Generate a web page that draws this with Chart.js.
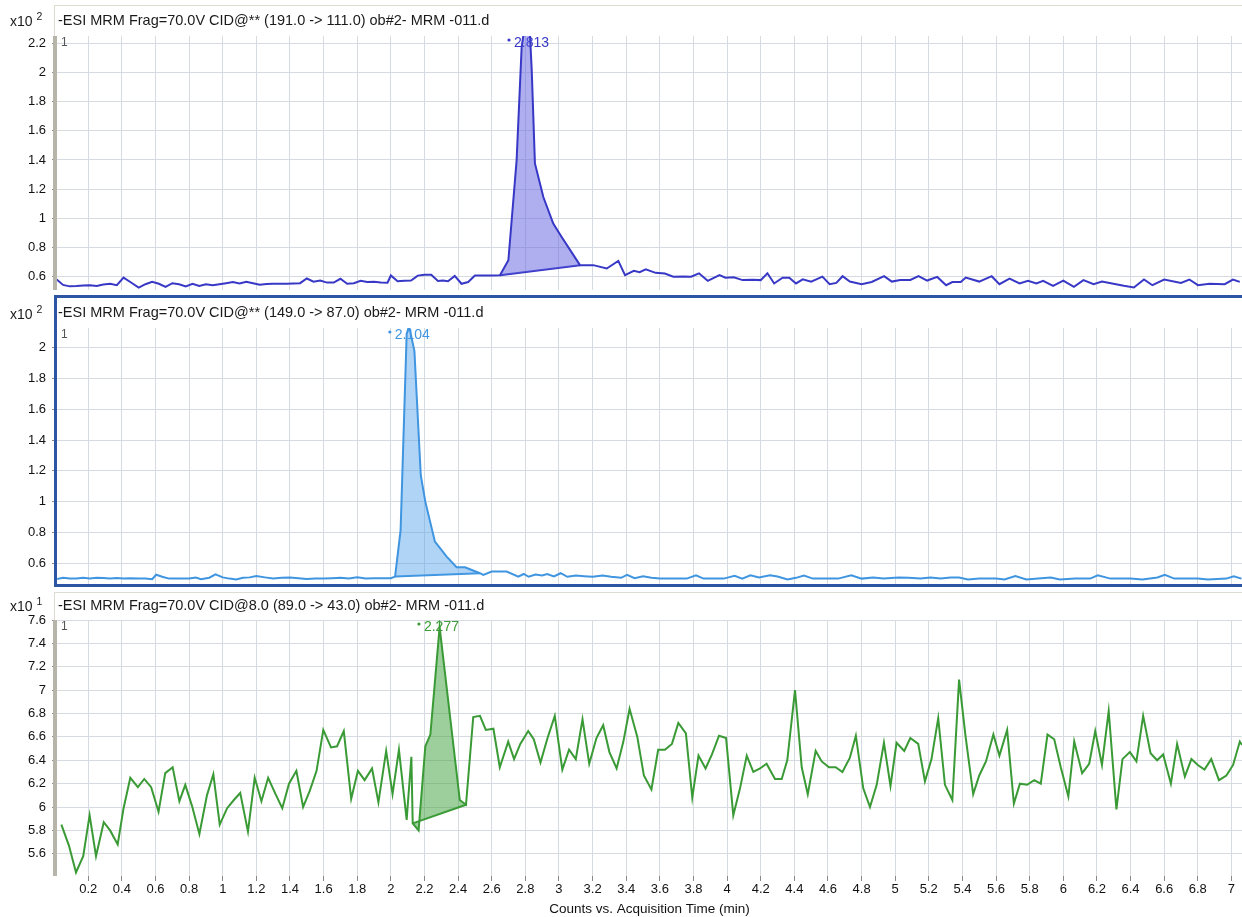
<!DOCTYPE html>
<html>
<head>
<meta charset="utf-8">
<script src="https://cdn.jsdelivr.net/npm/chart.js@4.4.1/dist/chart.umd.min.js"></script>
<style>
  body { margin: 0; background: #fff; font-family: "Liberation Sans", Arial, sans-serif; }
  #wrap { position: relative; width: 1242px; height: 917px; overflow: hidden; }
  canvas { position: absolute; left: 0; }
  .hdr { position: absolute; left: 58px; font-size: 14.5px; color: #1a1a1a; white-space: nowrap; line-height: 16px; }
  .mult { position: absolute; left: 10px; font-size: 14px; color: #1a1a1a; line-height: 16px; height: 16px; }
  .mult span { font-size: 10.5px; position: relative; top: -6px; }
  .thin { position: absolute; background: #dedbd0; }
  .bar { position: absolute; left: 53px; width: 4px; background: #b7b4a9; }
  .sel { position: absolute; box-sizing: border-box; border: 3px solid #2c56a3; border-right: none; }
</style>
</head>
<body>
<div id="wrap">
  <canvas id="c1" width="1242" height="286" style="top:20px"></canvas>
  <canvas id="c2" width="1242" height="288" style="top:312px"></canvas>
  <canvas id="c3" width="1242" height="313" style="top:604px"></canvas>

  <div class="thin" style="left:54px;top:5px;width:1188px;height:1px"></div>
  <div class="thin" style="left:54px;top:5px;width:1px;height:31px"></div>
  <div class="bar" style="top:36px;height:254px"></div>
  <div class="mult" style="top:13px">x10 <span>2</span></div>
  <div class="hdr" style="top:12px">-ESI MRM Frag=70.0V CID@** (191.0 -&gt; 111.0) ob#2- MRM -011.d</div>

  <div class="sel" style="left:54px;top:295px;width:1188px;height:292px"></div>
  <div class="mult" style="top:306px">x10 <span>2</span></div>
  <div class="hdr" style="top:304px">-ESI MRM Frag=70.0V CID@** (149.0 -&gt; 87.0) ob#2- MRM -011.d</div>

  <div class="thin" style="left:54px;top:592px;width:1188px;height:1px"></div>
  <div class="thin" style="left:54px;top:592px;width:1px;height:28px"></div>
  <div class="bar" style="top:620px;height:256px"></div>
  <div class="mult" style="top:598px">x10 <span>1</span></div>
  <div class="hdr" style="top:597px">-ESI MRM Frag=70.0V CID@8.0 (89.0 -&gt; 43.0) ob#2- MRM -011.d</div>
</div>
<script>
// MRM chromatograms, three transitions, counts vs acquisition time

// trace 1: 191.0 -> 111.0 (x10^2 counts)
const time1 = [0.012,0.05,0.09,0.13,0.17,0.21,0.25,0.29,0.33,0.37,
  0.41,0.45,0.50,0.54,0.58,0.62,0.66,0.70,0.74,0.78,
  0.82,0.86,0.90,0.94,0.98,1.02,1.06,1.10,1.14,1.18,
  1.22,1.26,1.30,1.34,1.38,1.42,1.46,1.50,1.54,1.58,
  1.62,1.66,1.70,1.74,1.78,1.82,1.86,1.90,1.94,1.98,
  2.00,2.04,2.08,2.12,2.16,2.20,2.24,2.28,2.31,2.34,
  2.38,2.42,2.46,2.50,2.55,2.60,2.649,2.699,2.748,2.778,
  2.80,2.825,2.838,2.857,2.907,2.966,3.016,3.125,3.204,3.284,
  3.353,3.393,3.445,3.48,3.516,3.575,3.63,3.68,3.74,3.786,
  3.833,3.885,3.955,3.99,4.04,4.092,4.15,4.20,4.24,4.28,
  4.33,4.37,4.41,4.45,4.50,4.567,4.61,4.65,4.687,4.73,
  4.80,4.86,4.934,4.98,5.03,5.09,5.139,5.19,5.25,5.303,
  5.34,5.39,5.42,5.50,5.574,5.62,5.68,5.74,5.79,5.84,
  5.88,5.939,6.00,6.063,6.12,6.18,6.23,6.29,6.36,6.42,
  6.48,6.53,6.60,6.70,6.75,6.801,6.87,6.96,7.009,7.05];
const counts1 = [0.578,0.540,0.530,0.532,0.536,0.537,0.532,0.543,0.548,0.538,
  0.590,0.560,0.522,0.545,0.562,0.548,0.527,0.552,0.545,0.530,
  0.548,0.533,0.545,0.538,0.545,0.552,0.560,0.550,0.562,0.552,
  0.542,0.546,0.548,0.548,0.548,0.550,0.552,0.584,0.562,0.570,
  0.556,0.556,0.582,0.548,0.552,0.568,0.560,0.562,0.556,0.555,
  0.605,0.565,0.568,0.570,0.604,0.610,0.610,0.567,0.570,0.565,
  0.602,0.548,0.560,0.605,0.605,0.605,0.607,0.710,1.397,2.176,
  2.35,2.32,2.016,1.376,1.145,0.962,0.870,0.676,0.676,0.653,
  0.705,0.607,0.637,0.628,0.647,0.623,0.618,0.597,0.598,0.597,
  0.620,0.568,0.607,0.590,0.592,0.573,0.575,0.573,0.620,0.550,
  0.590,0.590,0.550,0.578,0.562,0.597,0.545,0.554,0.600,0.563,
  0.545,0.560,0.600,0.563,0.574,0.574,0.600,0.570,0.595,0.538,
  0.560,0.560,0.591,0.563,0.600,0.545,0.583,0.550,0.568,0.550,
  0.568,0.534,0.570,0.527,0.573,0.545,0.563,0.550,0.534,0.522,
  0.577,0.538,0.577,0.554,0.577,0.538,0.548,0.545,0.577,0.561];

// trace 2: 149.0 -> 87.0 (x10^2 counts)
const time2 = [0.015,0.05,0.09,0.13,0.17,0.21,0.25,0.29,0.33,0.37,
  0.41,0.45,0.50,0.54,0.58,0.604,0.64,0.68,0.72,0.76,
  0.80,0.84,0.87,0.92,0.957,1.00,1.04,1.08,1.12,1.16,
  1.20,1.25,1.30,1.35,1.40,1.45,1.50,1.55,1.60,1.65,
  1.70,1.75,1.80,1.85,1.90,1.95,2.00,2.025,2.058,2.094,
  2.108,2.14,2.178,2.205,2.262,2.332,2.391,2.441,2.47,2.53,
  2.55,2.60,2.689,2.758,2.79,2.82,2.86,2.90,2.93,2.97,
  3.01,3.05,3.10,3.15,3.20,3.26,3.31,3.37,3.405,3.45,
  3.50,3.55,3.60,3.70,3.76,3.815,3.86,3.92,3.98,4.045,
  4.09,4.139,4.19,4.255,4.30,4.36,4.41,4.457,4.51,4.58,
  4.66,4.739,4.80,4.87,4.93,5.02,5.08,5.15,5.21,5.27,
  5.33,5.38,5.433,5.50,5.60,5.65,5.715,5.78,5.85,5.925,
  5.98,6.07,6.16,6.205,6.28,6.40,6.47,6.56,6.604,6.66,
  6.80,6.86,6.97,7.014,7.06];
const counts2 = [0.498,0.505,0.500,0.500,0.506,0.500,0.505,0.504,0.500,0.504,
  0.500,0.502,0.500,0.500,0.496,0.525,0.512,0.500,0.500,0.500,
  0.500,0.507,0.496,0.506,0.528,0.508,0.500,0.495,0.505,0.508,
  0.517,0.508,0.500,0.505,0.508,0.503,0.497,0.500,0.500,0.503,
  0.505,0.500,0.508,0.500,0.502,0.502,0.503,0.513,0.815,2.09,
  2.14,1.98,1.17,1.0,0.74,0.643,0.574,0.574,0.561,0.535,
  0.524,0.546,0.546,0.513,0.530,0.512,0.527,0.520,0.530,0.514,
  0.535,0.512,0.520,0.516,0.512,0.520,0.512,0.505,0.524,0.503,
  0.515,0.505,0.500,0.500,0.500,0.522,0.500,0.500,0.500,0.518,
  0.500,0.522,0.508,0.522,0.514,0.495,0.505,0.520,0.500,0.500,
  0.500,0.522,0.500,0.507,0.500,0.507,0.505,0.500,0.507,0.500,
  0.507,0.507,0.495,0.500,0.500,0.495,0.517,0.495,0.500,0.507,
  0.495,0.500,0.500,0.522,0.500,0.500,0.495,0.507,0.524,0.500,
  0.500,0.495,0.500,0.515,0.500];

// trace 3: 89.0 -> 43.0 (x10^1 counts)
const time3 = [0.04,0.085,0.127,0.17,0.208,0.246,0.292,0.33,0.375,0.41,
  0.45,0.495,0.533,0.574,0.618,0.658,0.702,0.742,0.777,0.817,
  0.861,0.906,0.944,0.982,1.026,1.066,1.104,1.15,1.19,1.23,
  1.27,1.314,1.354,1.394,1.438,1.478,1.518,1.558,1.598,1.644,
  1.68,1.72,1.764,1.804,1.844,1.888,1.926,1.972,2.01,2.048,
  2.094,2.122,2.13,2.165,2.205,2.235,2.29,2.41,2.447,2.49,
  2.53,2.565,2.61,2.648,2.698,2.733,2.77,2.817,2.85,2.89,
  2.932,2.975,3.02,3.06,3.10,3.14,3.18,3.223,3.263,3.30,
  3.343,3.383,3.42,3.466,3.505,3.55,3.59,3.63,3.672,3.71,
  3.755,3.793,3.83,3.872,3.91,3.952,3.994,4.037,4.077,4.117,
  4.156,4.196,4.235,4.285,4.325,4.358,4.404,4.444,4.48,4.527,
  4.563,4.606,4.646,4.686,4.73,4.766,4.81,4.85,4.89,4.933,
  4.972,5.008,5.054,5.09,5.137,5.177,5.216,5.256,5.296,5.34,
  5.38,5.418,5.464,5.50,5.54,5.584,5.62,5.666,5.706,5.742,
  5.785,5.827,5.866,5.906,5.946,5.985,6.03,6.065,6.112,6.154,
  6.19,6.23,6.27,6.316,6.352,6.396,6.435,6.475,6.519,6.558,
  6.594,6.64,6.677,6.723,6.762,6.80,6.84,6.88,6.926,6.97,
  7.01,7.05,7.063];
const counts3 = [5.85,5.67,5.44,5.58,5.93,5.58,5.87,5.80,5.68,5.99,
  6.25,6.17,6.24,6.17,5.96,6.29,6.34,6.05,6.19,6.01,
  5.77,6.10,6.28,5.85,5.99,6.06,6.12,5.79,6.25,6.05,
  6.25,6.11,5.99,6.20,6.31,6.00,6.14,6.31,6.66,6.51,
  6.52,6.65,6.07,6.31,6.23,6.33,6.04,6.48,6.11,6.49,
  5.89,6.43,5.86,5.80,6.52,6.62,7.54,6.06,6.02,6.77,
  6.78,6.66,6.67,6.34,6.56,6.41,6.54,6.65,6.58,6.38,
  6.59,6.78,6.32,6.49,6.41,6.75,6.37,6.59,6.70,6.47,
  6.33,6.56,6.84,6.60,6.27,6.15,6.49,6.49,6.54,6.72,
  6.63,6.08,6.44,6.33,6.45,6.61,6.59,5.93,6.16,6.44,
  6.30,6.33,6.37,6.24,6.24,6.40,7.00,6.34,6.11,6.48,
  6.39,6.34,6.34,6.30,6.42,6.61,6.16,6.00,6.19,6.55,
  6.18,6.55,6.48,6.59,6.54,6.22,6.41,6.76,6.19,6.06,
  7.09,6.61,6.11,6.27,6.39,6.62,6.44,6.66,6.03,6.20,
  6.19,6.23,6.20,6.62,6.58,6.34,6.09,6.56,6.29,6.37,
  6.65,6.36,6.82,5.98,6.41,6.47,6.39,6.78,6.46,6.40,
  6.45,6.20,6.54,6.26,6.41,6.36,6.32,6.41,6.23,6.27,
  6.36,6.56,6.53];

// integration baselines under each peak (start / end)
const baseTime1 = [2.649, 3.125], baseCounts1 = [0.607, 0.676];
const baseTime2 = [2.025, 2.53], baseCounts2 = [0.513, 0.535];
const baseTime3 = [2.13, 2.447], baseCounts3 = [5.86, 6.02];

// retention times printed over the peaks
const peakRt = [2.813, 2.104, 2.277];

// axis ticks
const xTicks = [0.2,0.4,0.6,0.8,1,1.2,1.4,1.6,1.8,2,2.2,2.4,2.6,2.8,3,3.2,3.4,3.6,3.8,4,
  4.2,4.4,4.6,4.8,5,5.2,5.4,5.6,5.8,6,6.2,6.4,6.6,6.8,7];
const yTicks1 = [0.6,0.8,1,1.2,1.4,1.6,1.8,2,2.2];
const yTicks2 = [0.6,0.8,1,1.2,1.4,1.6,1.8,2];
const yTicks3 = [5.6,5.8,6,6.2,6.4,6.6,6.8,7,7.2,7.4,7.6];

const FONT = '"Liberation Sans", Arial, sans-serif';
Chart.defaults.font.family = FONT;
Chart.defaults.font.size = 13;
Chart.defaults.color = '#111';

const gridColor = '#d6dae1';
const PAD = 16; // keeps the plot box independent of tick-label padding
const pts = (t, v) => t.map((x, i) => ({ x, y: v[i] }));

// draws the trace number and the "• rt" peak label
const peakMark = {
  id: 'peakMark',
  beforeDatasetsDraw(chart, args, opts) {
    const { ctx, chartArea, scales } = chart;
    ctx.save();
    ctx.textBaseline = 'middle';
    ctx.font = '12px ' + FONT;
    ctx.fillStyle = '#555';
    ctx.textAlign = 'left';
    ctx.fillText('1', chartArea.left + 4, chartArea.top + 7);

    const label = opts.rt.toFixed(3);
    const x = scales.x.getPixelForValue(opts.rt) + 4;
    const y = chartArea.top + 7;
    ctx.font = '14px ' + FONT;
    ctx.fillStyle = opts.color;
    ctx.textAlign = 'center';
    ctx.fillText(label, x, y);
    const w = ctx.measureText(label).width;
    ctx.beginPath();
    ctx.arc(x - w / 2 - 5, y - 3, 1.6, 0, Math.PI * 2);
    ctx.fill();
    ctx.restore();
  }
};

function makeChart(id, p) {
  const xAxis = {
    type: 'linear', min: 0.014, max: 7.063,
    afterBuildTicks: s => { s.ticks = xTicks.map(v => ({ value: v })); },
    grid: { color: gridColor, drawTicks: p.showX, tickLength: 5, tickColor: '#8a8a8a' },
    border: { display: false },
    ticks: { display: p.showX, autoSkip: false, maxRotation: 0, minRotation: 0, padding: 1, callback: v => String(v) }
  };
  if (p.showX) {
    xAxis.title = { display: true, text: 'Counts vs. Acquisition Time (min)', color: '#111',
      font: { size: 13.5 }, padding: { top: 0, bottom: 0 } };
    xAxis.afterFit = s => { s.height = 41; };
  }

  return new Chart(document.getElementById(id), {
    type: 'line',
    data: {
      datasets: [
        { data: pts(p.t, p.v), borderColor: p.color, backgroundColor: p.fill, borderWidth: 2,
          pointRadius: 0, tension: 0, fill: 1 },
        { data: pts(p.bt, p.bv), borderColor: p.color, borderWidth: 2, pointRadius: 0, fill: false }
      ]
    },
    options: {
      responsive: false,
      animation: false,
      events: [],
      layout: { padding: { top: PAD, bottom: p.showX ? 0 : PAD, left: 0, right: 0 } },
      plugins: { legend: { display: false }, tooltip: { enabled: false },
        peakMark: { rt: p.rt, color: p.color } },
      scales: {
        x: xAxis,
        y: {
          min: p.yMin, max: p.yMax,
          afterBuildTicks: s => { s.ticks = p.yTicks.map(v => ({ value: v })); },
          afterFit: s => { s.width = 57; },
          grid: { color: gridColor, tickLength: 5, tickColor: '#8a8a8a' },
          border: { display: false },
          ticks: { padding: 6, callback: v => String(v) }
        }
      }
    },
    plugins: [peakMark]
  });
}

makeChart('c1', { t: time1, v: counts1, bt: baseTime1, bv: baseCounts1, rt: peakRt[0],
  color: '#3838c6', fill: 'rgba(95, 95, 225, 0.5)', yMin: 0.505, yMax: 2.253, yTicks: yTicks1, showX: false });
makeChart('c2', { t: time2, v: counts2, bt: baseTime2, bv: baseCounts2, rt: peakRt[1],
  color: '#3f95e0', fill: 'rgba(80, 160, 235, 0.45)', yMin: 0.465, yMax: 2.128, yTicks: yTicks2, showX: false });
makeChart('c3', { t: time3, v: counts3, bt: baseTime3, bv: baseCounts3, rt: peakRt[2],
  color: '#3a9a35', fill: 'rgba(60, 160, 60, 0.5)', yMin: 5.41, yMax: 7.6, yTicks: yTicks3, showX: true });
</script>
</body>
</html>
